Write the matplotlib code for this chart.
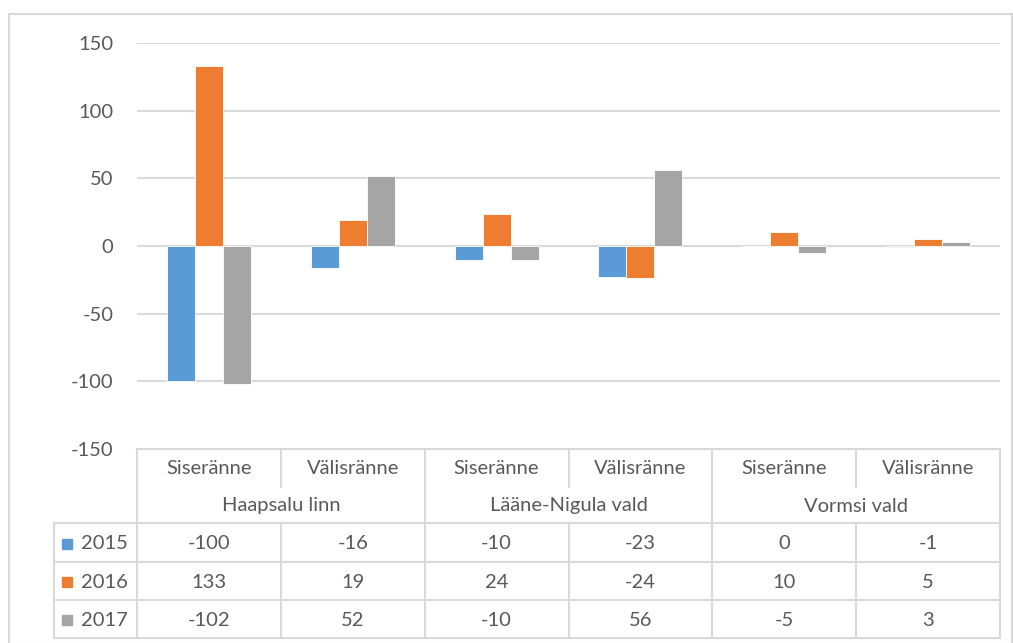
import numpy as np
import matplotlib.pyplot as plt
from matplotlib.patches import Rectangle

plt.rcParams['font.family'] = ['Lato', 'DejaVu Sans']
plt.rcParams['axes.unicode_minus'] = False

# data
groups = ["Haapsalu linn", "Lääne-Nigula vald", "Vormsi vald"]
subcats = ["Siseränne", "Välisränne"]
years = ["2015", "2016", "2017"]
v2015 = [-100, -16, -10, -23, 0, -1]
v2016 = [133, 19, 24, -24, 10, 5]
v2017 = [-102, 52, -10, 56, -5, 3]
series = [v2015, v2016, v2017]
colors = ["#5B9BD5", "#ED7D31", "#A5A5A5"]

W, H = 1013, 643
txt = "#595959"
grid = "#D9D9D9"
fs = 14.5

fig = plt.figure(figsize=(W / 100, H / 100), dpi=100)

# main plot area (pixel box 137..1000 x 43..449)
x0, x1, ytop, ybot = 137, 1000, 43, 449
ax = fig.add_axes([x0 / W, 1 - ybot / H, (x1 - x0) / W, (ybot - ytop) / H])
n = len(v2015)
x = np.arange(n)
bw = 0.195
for i, (vals, c) in enumerate(zip(series, colors)):
    ax.bar(x + (i - 1) * bw, vals, bw, color=c, edgecolor="white", linewidth=0.6, zorder=3)
ax.set_xlim(-0.5, n - 0.5)
ax.set_ylim(-150, 150)
ax.set_yticks(range(-150, 151, 50))
ax.yaxis.grid(True, color=grid, linewidth=1.5, zorder=0)
ax.set_xticks([])
for s in ax.spines.values():
    s.set_visible(False)
ax.tick_params(axis="y", length=0, pad=17, labelsize=fs, labelcolor=txt)

# overlay in pixel coordinates for table and border
ov = fig.add_axes([0, 0, 1, 1], zorder=-1)
ov.set_xlim(0, W)
ov.set_ylim(H, 0)
ov.axis("off")
ov.add_patch(Rectangle((9, 14), W - 10, H - 13, fill=False, edgecolor=grid, linewidth=1.5))

colw = (x1 - x0) / n
cx = [x0 + (i + 0.5) * colw for i in range(n)]
edges = [x0 + i * colw for i in range(n + 1)]
lc = dict(color=grid, linewidth=1.5)

r_sub, r_grp = 449, 487
r_data = [523, 562, 600, 638]
tleft = 54

ov.plot([x0, x1], [r_sub, r_sub], **lc)
for y in r_data:
    ov.plot([tleft, x1], [y, y], **lc)
ov.plot([tleft, tleft], [r_data[0], r_data[-1]], **lc)
for i, e in enumerate(edges):
    if i % 2 == 0:
        ov.plot([e, e], [r_sub, r_data[-1]], **lc)
    else:
        ov.plot([e, e], [r_sub, r_grp], **lc)
        ov.plot([e, e], [r_data[0], r_data[-1]], **lc)

for i in range(n):
    ov.text(cx[i], 469, subcats[i % 2], ha="center", va="center", fontsize=fs, color=txt)
for g, name in enumerate(groups):
    ov.text((edges[2 * g] + edges[2 * g + 2]) / 2, 506, name, ha="center", va="center",
            fontsize=fs, color=txt)

for r, (yr, vals, c) in enumerate(zip(years, series, colors)):
    yc = (r_data[r] + r_data[r + 1]) / 2 + 1
    ov.add_patch(Rectangle((62, yc - 5), 10, 10, color=c))
    ov.text(81, yc, yr, ha="left", va="center", fontsize=fs, color=txt)
    for i, v in enumerate(vals):
        ov.text(cx[i], yc, str(v), ha="center", va="center", fontsize=fs, color=txt)

fig.savefig("out.png", dpi=100)
